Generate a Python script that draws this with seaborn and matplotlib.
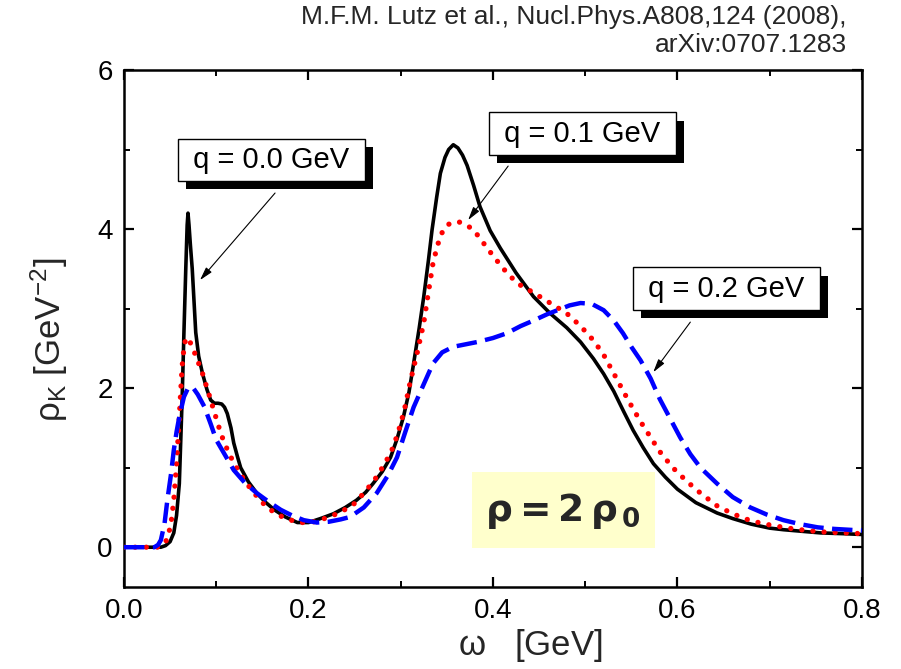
import matplotlib
matplotlib.use("Agg")
import matplotlib.pyplot as plt
from matplotlib.patches import Rectangle
from matplotlib.ticker import MultipleLocator
import matplotlib.patheffects as pe
import numpy as np
import pandas as pd
import seaborn as sns

# Kaon spectral functions at rho = 2 rho_0 for three momenta q
omega_q00 = [0.0, 0.04, 0.045, 0.05, 0.054, 0.057, 0.060, 0.063, 0.065, 0.067, 0.0685, 0.0694,
             0.0705, 0.072, 0.074, 0.0778, 0.081, 0.085, 0.090, 0.094, 0.098, 0.102, 0.106, 0.109,
             0.112, 0.116, 0.119, 0.123, 0.1265, 0.135, 0.144, 0.153, 0.163, 0.175, 0.188, 0.20,
             0.213, 0.227, 0.24, 0.252, 0.262, 0.27, 0.28, 0.289, 0.296, 0.303, 0.309, 0.314,
             0.32, 0.325, 0.33, 0.334, 0.339, 0.343, 0.348, 0.352, 0.357, 0.362, 0.367, 0.372,
             0.379, 0.386, 0.397, 0.408, 0.425, 0.444, 0.462, 0.48, 0.495, 0.509, 0.52, 0.531,
             0.542, 0.552, 0.563, 0.574, 0.587, 0.60, 0.62, 0.643, 0.66, 0.68, 0.70, 0.715,
             0.735, 0.755, 0.78, 0.80]
rho_q00 = [0.0, 0.0, 0.02, 0.07, 0.18, 0.4, 0.8, 1.85, 2.7, 3.5, 4.05, 4.2,
           4.05, 3.8, 3.5, 2.7, 2.4, 2.19, 1.98, 1.85, 1.81, 1.81, 1.8, 1.76,
           1.68, 1.5, 1.31, 1.14, 1.0, 0.82, 0.68, 0.57, 0.47, 0.38, 0.31, 0.31,
           0.36, 0.42, 0.5, 0.59, 0.69, 0.8, 0.95, 1.13, 1.36, 1.64, 1.95, 2.31,
           2.75, 3.15, 3.6, 3.99, 4.4, 4.7, 4.9, 5.0, 5.06, 5.02, 4.93, 4.8,
           4.55, 4.28, 3.98, 3.76, 3.45, 3.15, 2.94, 2.76, 2.58, 2.37, 2.18, 1.96,
           1.7, 1.47, 1.25, 1.05, 0.88, 0.73, 0.56, 0.43, 0.36, 0.29, 0.24, 0.22,
           0.2, 0.18, 0.17, 0.16]

omega_q01 = [0.0, 0.036, 0.042, 0.047, 0.051, 0.054, 0.057, 0.060, 0.063, 0.065, 0.067, 0.070,
             0.074, 0.079, 0.085, 0.094, 0.100, 0.105, 0.110, 0.116, 0.124, 0.133, 0.144, 0.155,
             0.168, 0.181, 0.193, 0.206, 0.22, 0.235, 0.25, 0.263, 0.275, 0.285, 0.292, 0.30,
             0.305, 0.31, 0.318, 0.325, 0.33, 0.335, 0.340, 0.346, 0.352, 0.358, 0.363, 0.370,
             0.379, 0.39, 0.401, 0.413, 0.426, 0.444, 0.462, 0.48, 0.495, 0.509, 0.52, 0.534,
             0.547, 0.56, 0.571, 0.581, 0.595, 0.61, 0.625, 0.643, 0.66, 0.68, 0.70, 0.72,
             0.74, 0.76, 0.78, 0.80]
rho_q01 = [0.0, 0.0, 0.03, 0.1, 0.3, 0.59, 1.05, 1.64, 2.27, 2.5, 2.63, 2.62,
           2.52, 2.37, 2.19, 1.85, 1.62, 1.43, 1.28, 1.13, 0.96, 0.8, 0.64, 0.5,
           0.4, 0.34, 0.31, 0.32, 0.37, 0.44, 0.55, 0.72, 0.9, 1.1, 1.26, 1.55,
           1.78, 2.06, 2.45, 2.82, 3.2, 3.57, 3.8, 3.99, 4.06, 4.09, 4.09, 4.06,
           3.99, 3.82, 3.65, 3.48, 3.32, 3.2, 3.07, 2.94, 2.78, 2.6, 2.42, 2.12,
           1.84, 1.58, 1.38, 1.2, 1.0, 0.83, 0.68, 0.52, 0.42, 0.33, 0.28, 0.24,
           0.21, 0.19, 0.18, 0.17]

omega_q02 = [0.0, 0.033, 0.037, 0.04, 0.044, 0.047, 0.051, 0.054, 0.057, 0.060, 0.065, 0.069,
             0.074, 0.080, 0.087, 0.094, 0.100, 0.110, 0.119, 0.131, 0.144, 0.157, 0.17, 0.182,
             0.195, 0.209, 0.222, 0.235, 0.245, 0.26, 0.274, 0.286, 0.296, 0.305, 0.314, 0.325,
             0.335, 0.345, 0.357, 0.37, 0.383, 0.40, 0.415, 0.43, 0.444, 0.459, 0.47, 0.483,
             0.495, 0.507, 0.52, 0.531, 0.541, 0.55, 0.56, 0.571, 0.581, 0.592, 0.603, 0.614,
             0.625, 0.643, 0.66, 0.679, 0.697, 0.715, 0.733, 0.752, 0.77, 0.785, 0.80]
rho_q02 = [0.0, 0.0, 0.03, 0.09, 0.3, 0.59, 0.92, 1.22, 1.45, 1.64, 1.89, 1.99,
           2.02, 1.92, 1.77, 1.55, 1.35, 1.15, 0.97, 0.81, 0.68, 0.57, 0.47, 0.4,
           0.34, 0.31, 0.32, 0.35, 0.38, 0.5, 0.68, 0.9, 1.13, 1.45, 1.76, 2.05,
           2.31, 2.45, 2.52, 2.55, 2.58, 2.63, 2.69, 2.78, 2.85, 2.93, 2.98, 3.04,
           3.07, 3.06, 2.98, 2.85, 2.69, 2.52, 2.35, 2.12, 1.86, 1.62, 1.38, 1.17,
           1.0, 0.8, 0.63, 0.5, 0.41, 0.34, 0.29, 0.25, 0.23, 0.22, 0.21]

q_labels = ["q = 0.0 GeV", "q = 0.1 GeV", "q = 0.2 GeV"]
x_ticks = [0.0, 0.2, 0.4, 0.6, 0.8]
y_ticks = [0, 2, 4, 6]

sns.set_style("ticks")
plt.rcParams["font.family"] = ["Liberation Sans", "DejaVu Sans"]
plt.rcParams["mathtext.fontset"] = "custom"
plt.rcParams["mathtext.rm"] = "Liberation Sans"
plt.rcParams["mathtext.it"] = "Liberation Sans:italic"
plt.rcParams["mathtext.bf"] = "Liberation Sans:bold"

fig = plt.figure(figsize=(9.01, 6.69), dpi=100)
ax = fig.add_axes([0.1376, 0.1226, 0.819, 0.7728])

curves = [
    (omega_q00, rho_q00, dict(color="black", lw=2.6, linestyle="-")),
    (omega_q01, rho_q01, dict(color="#ff0000", lw=3.8, linestyle=(0, (0.01, 2.1)),
                              dash_capstyle="round")),
    (omega_q02, rho_q02, dict(color="#0000ff", lw=3.2, linestyle=(0, (4.6, 1.9)),
                              dash_capstyle="butt")),
]
for i, (xs, ys, style) in enumerate(curves):
    df = pd.DataFrame({"omega": xs, "rho": ys})
    sns.lineplot(data=df, x="omega", y="rho", ax=ax, estimator=None, sort=False,
                 zorder=3 + i * 0.1, **style)

ax.set_xlim(0.0, 0.8)
ax.set_ylim(-0.5, 6.0)
ax.set_xticks(x_ticks)
ax.set_xticklabels([f"{v:.1f}" for v in x_ticks])
ax.set_yticks(y_ticks)
ax.set_yticklabels([str(v) for v in y_ticks])
ax.xaxis.set_minor_locator(MultipleLocator(0.1))
ax.yaxis.set_minor_locator(MultipleLocator(1))
ax.tick_params(which="both", direction="in", top=True, right=True, colors="black")
ax.tick_params(which="major", length=7.5, width=1.6, labelsize=20, pad=8)
ax.tick_params(which="minor", length=4, width=1.4)
for sp in ax.spines.values():
    sp.set_linewidth(1.8)
    sp.set_color("black")

ax.set_xlabel(r"$\mathregular{\omega}$   [GeV]", fontsize=25)
ax.xaxis.set_label_coords(0.55, -0.078)
ax.set_ylabel(r"$\mathregular{\rho_K\ [GeV^{-2}]}$", fontsize=25)
ax.yaxis.set_label_coords(-0.073, 0.478)

# Density box
ax.add_patch(Rectangle((0.472, 0.0754), 0.247, 0.147, transform=ax.transAxes,
                       facecolor="#ffffcc", edgecolor="none", zorder=1))
ax.text(0.595, 0.146, r"$\mathbf{\rho = 2\,\rho_{\,0}}$", transform=ax.transAxes,
        ha="center", va="center", fontsize=27, zorder=2,
        math_fontfamily="dejavusans")

# Labelled boxes with drop shadow and arrows pointing at each curve
box_pos = [(0.16, 4.87), (0.4968, 5.20), (0.653, 3.25)]
arrow_from = [(0.1638, 4.453), (0.4165, 4.792), (0.614, 2.83)]
arrow_to = [(0.0824, 3.358), (0.3731, 4.113), (0.5738, 2.2)]
for text, (bx, by), a0, a1 in zip(q_labels, box_pos, arrow_from, arrow_to):
    t = ax.text(bx, by, " " + text + " ", ha="center", va="center", fontsize=21,
                color="black", zorder=7,
                bbox=dict(boxstyle="square,pad=0.25", fc="white", ec="black", lw=1))
    t.get_bbox_patch().set_path_effects([
        pe.SimplePatchShadow(offset=(6, -6), shadow_rgbFace="black", alpha=1.0),
        pe.Normal(),
    ])
    ax.annotate("", xy=a1, xytext=a0,
                arrowprops=dict(arrowstyle="-|>,head_length=0.8,head_width=0.22",
                                lw=0.8, color="black", shrinkA=0, shrinkB=0),
                zorder=6)

fig.text(0.940, 0.992, "M.F.M. Lutz et al., Nucl.Phys.A808,124 (2008),\narXiv:0707.1283",
         ha="right", va="top", fontsize=19, multialignment="right", linespacing=1.2)

fig.savefig("out.png", dpi=100)
